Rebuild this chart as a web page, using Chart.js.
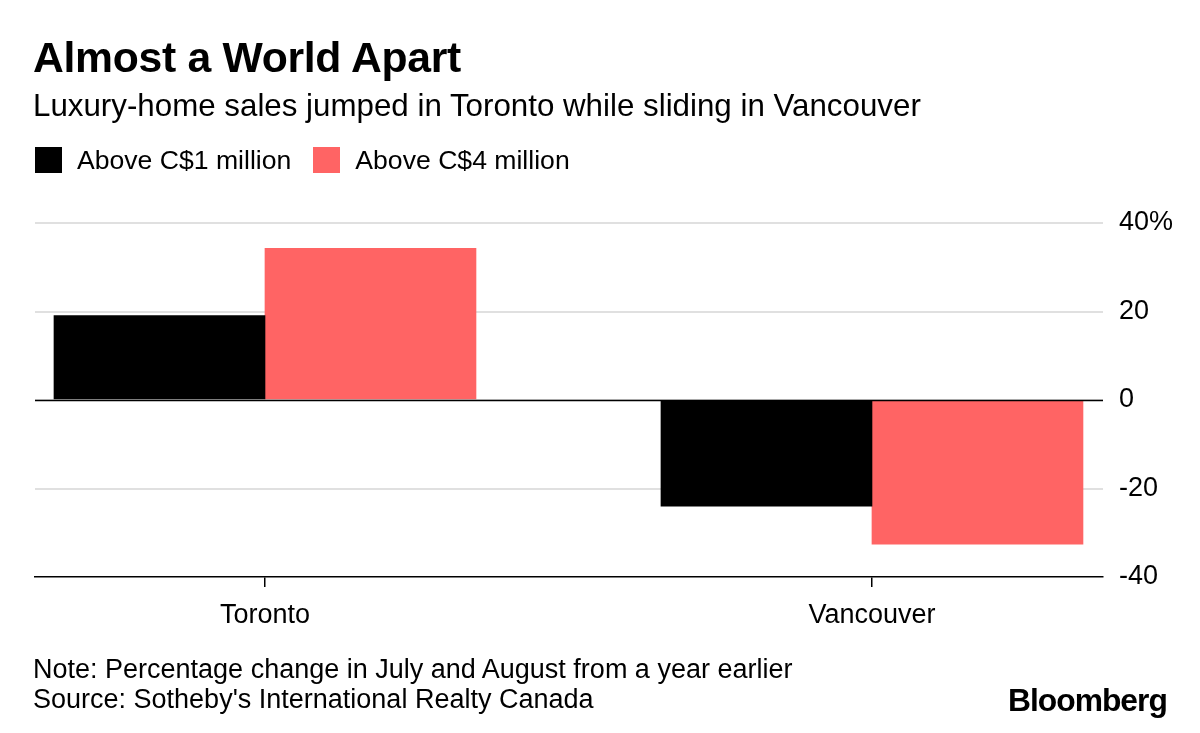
<!DOCTYPE html>
<html>
<head>
<meta charset="utf-8">
<script src="https://cdn.jsdelivr.net/npm/chart.js@4.4.0/dist/chart.umd.min.js"></script>
<style>
  html, body { margin: 0; padding: 0; background: #fff; }
  #wrap { position: relative; width: 1200px; height: 733px; overflow: hidden; font-family: "Liberation Sans", Arial, sans-serif; color: #000; }
  #wrap canvas { position: absolute; left: 0; top: 0; }
  .t { position: absolute; white-space: nowrap; line-height: 1; }
  #title { left: 33px; top: 36px; font-size: 42.7px; font-weight: bold; letter-spacing: -0.3px; }
  #subtitle { left: 33px; top: 90px; font-size: 31.3px; }
  #legend { left: 35px; top: 147px; font-size: 26.6px; display: flex; align-items: center; }
  .sw { display: inline-block; width: 27px; height: 26px; margin-right: 15px; }
  .li { display: flex; align-items: center; margin-right: 22px; }
  #note { left: 33px; top: 656px; font-size: 27px; }
  #source { left: 33px; top: 686px; font-size: 27px; }
  #logo { left: 1008px; top: 685px; font-size: 31.8px; font-weight: bold; letter-spacing: -1px; }
</style>
</head>
<body>
<div id="wrap">
  <canvas id="c" width="1200" height="733"></canvas>
  <div class="t" id="title">Almost a World Apart</div>
  <div class="t" id="subtitle">Luxury-home sales jumped in Toronto while sliding in Vancouver</div>
  <div class="t" id="legend"></div>
  <div class="t" id="note">Note: Percentage change in July and August from a year earlier</div>
  <div class="t" id="source">Source: Sotheby's International Realty Canada</div>
  <div class="t" id="logo">Bloomberg</div>
</div>
<script>
const categories = ['Toronto', 'Vancouver'];
const seriesNames = ['Above C$1 million', 'Above C$4 million'];
const seriesColors = ['#000000', '#ff6464'];
const above1m = [19.1, -24.0];
const above4m = [34.3, -32.6];
const yTicks = [-40, -20, 0, 20, 40];

// legend (HTML)
const legendEl = document.getElementById('legend');
seriesNames.forEach((name, i) => {
  const item = document.createElement('span');
  item.className = 'li';
  const sw = document.createElement('span');
  sw.className = 'sw';
  sw.style.background = seriesColors[i];
  item.appendChild(sw);
  item.appendChild(document.createTextNode(name));
  legendEl.appendChild(item);
});

const toPoints = arr => arr.map((v, i) => ({ x: i, y: v }));

const zeroLine = {
  id: 'zeroLine',
  afterDatasetsDraw(chart) {
    const { ctx, chartArea, scales } = chart;
    const y = Math.round(scales.y.getPixelForValue(0)) + 0.5;
    ctx.save();
    ctx.strokeStyle = '#000';
    ctx.lineWidth = 1.5;
    ctx.beginPath();
    ctx.moveTo(chartArea.left, y);
    ctx.lineTo(chartArea.right, y);
    ctx.stroke();
    ctx.restore();
  }
};

new Chart(document.getElementById('c'), {
  type: 'bar',
  data: {
    datasets: [
      { label: seriesNames[0], data: toPoints(above1m), backgroundColor: seriesColors[0], barThickness: 211 },
      { label: seriesNames[1], data: toPoints(above4m), backgroundColor: seriesColors[1], barThickness: 211 }
    ]
  },
  options: {
    responsive: false,
    animation: false,
    devicePixelRatio: 1,
    layout: { padding: { left: 35, top: 223, right: 0, bottom: 0 } },
    plugins: { legend: { display: false }, tooltip: { enabled: false }, title: { display: false } },
    scales: {
      x: {
        type: 'linear',
        offset: false,
        min: -0.3789,
        max: 1.3806,
        afterBuildTicks: s => { s.ticks = categories.map((c, i) => ({ value: i })); },
        afterFit: s => { s.height = 733 - 577; },
        ticks: {
          autoSkip: false, maxRotation: 0, padding: 12,
          color: '#000',
          font: { family: '"Liberation Sans", Arial, sans-serif', size: 27 },
          callback: v => categories[v]
        },
        grid: { offset: false, drawOnChartArea: false, drawTicks: true, tickLength: 10, color: '#000', lineWidth: 1.5 },
        border: { display: true, color: '#000', width: 1.5 }
      },
      y: {
        position: 'right',
        min: -40,
        max: 40,
        afterBuildTicks: s => { s.ticks = yTicks.map(v => ({ value: v })); },
        afterFit: s => { s.width = 1200 - 1103; },
        ticks: {
          padding: 16,
          color: '#000',
          font: { family: '"Liberation Sans", Arial, sans-serif', size: 27 },
          callback: v => (v === 40 ? v + '%' : String(v))
        },
        grid: {
          drawTicks: false,
          lineWidth: 2,
          color: c => (c.tick && (c.tick.value === -40) ? 'rgba(0,0,0,0)' : '#e0e0e0')
        },
        border: { display: false }
      }
    }
  },
  plugins: [zeroLine]
});
</script>
</body>
</html>
